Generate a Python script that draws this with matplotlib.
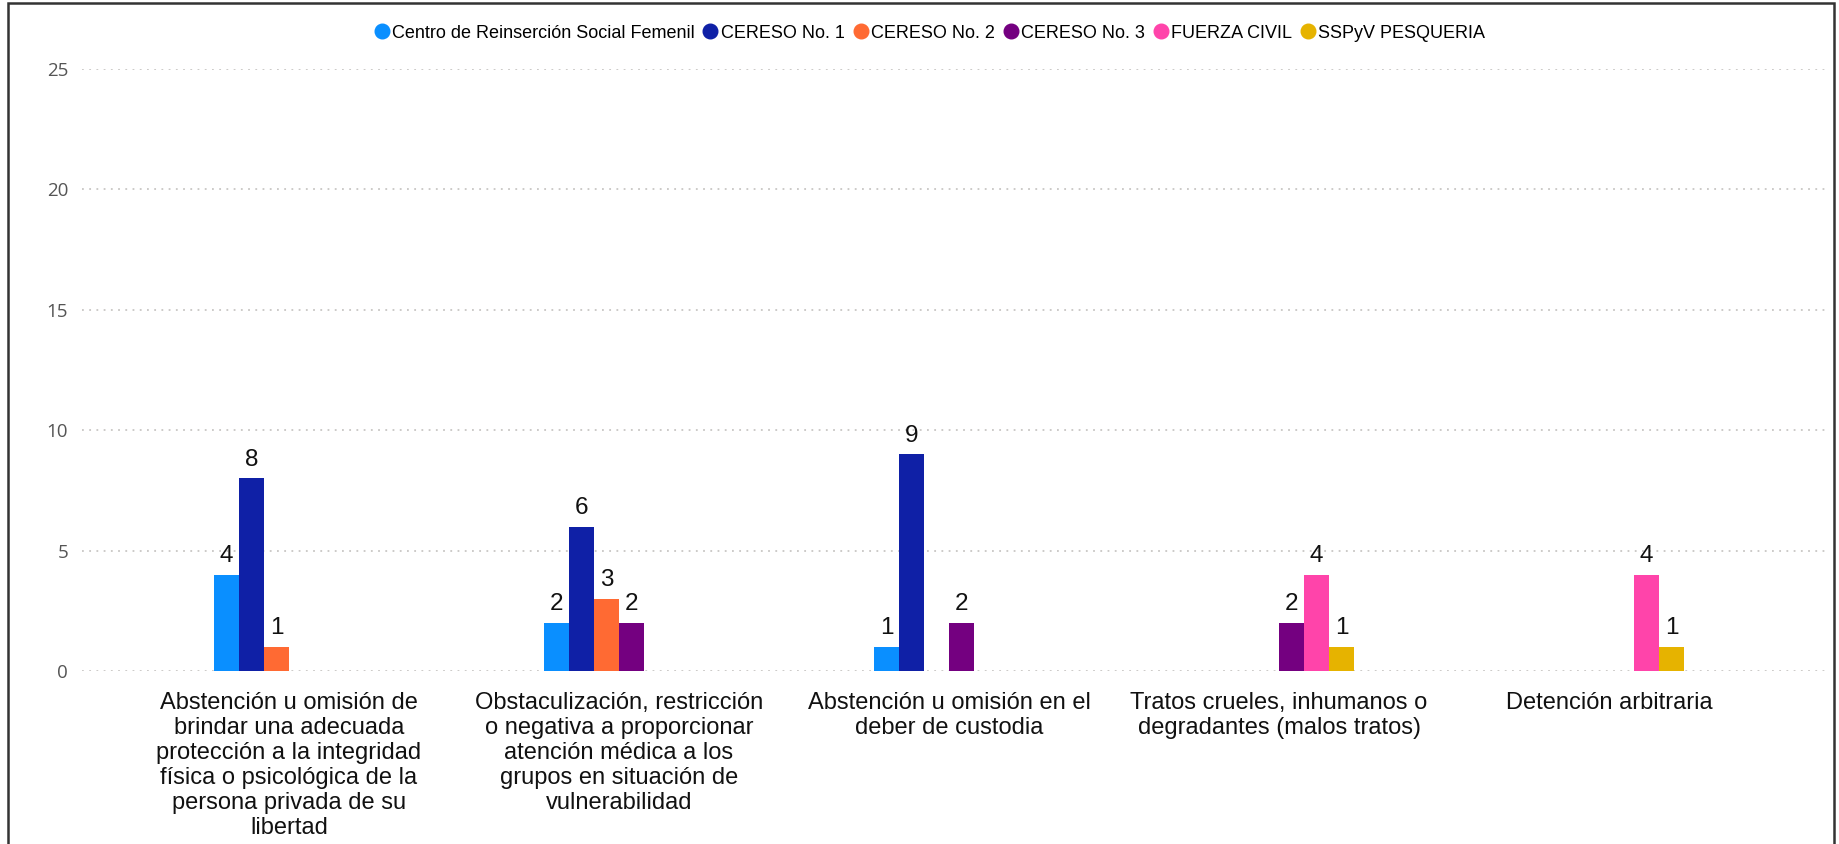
from matplotlib import pyplot as plt
from matplotlib.lines import Line2D
from matplotlib.patches import Rectangle
import numpy as np

categories = [
    'Abstención u omisión de\nbrindar una adecuada\nprotección a la integridad\nfísica o psicológica de la\npersona privada de su\nlibertad',
    'Obstaculización, restricción\no negativa a proporcionar\natención médica a los\ngrupos en situación de\nvulnerabilidad',
    'Abstención u omisión en el\ndeber de custodia',
    'Tratos crueles, inhumanos o\ndegradantes (malos tratos)',
    'Detención arbitraria',
]
series_names = [
    'Centro de Reinserción Social Femenil',
    'CERESO No. 1',
    'CERESO No. 2',
    'CERESO No. 3',
    'FUERZA CIVIL',
    'SSPyV PESQUERIA',
]
femenil = [4, 2, 1, None, None]
cereso_1 = [8, 6, 9, None, None]
cereso_2 = [1, 3, None, None, None]
cereso_3 = [None, 2, 2, 2, None]
fuerza_civil = [None, None, None, 4, 4]
sspyv = [None, None, None, 1, 1]
series_values = [femenil, cereso_1, cereso_2, cereso_3, fuerza_civil, sspyv]
colors = ['#0A8FFF', '#0F20A6', '#FF6A33', '#740080', '#FF44AA', '#E6B300']
y_ticks = [0, 5, 10, 15, 20, 25]

label_font = ['Liberation Sans', 'DejaVu Sans']

fig = plt.figure(figsize=(18.39, 8.44), dpi=100)
ax = fig.add_axes([82/1839, 1 - 671/844, (1825 - 82)/1839, (671 - 69)/844])

spacing = 330.0
w = 25.0 / spacing
x = np.arange(len(categories))
for k, (name, vals, c) in enumerate(zip(series_names, series_values, colors)):
    for i, v in enumerate(vals):
        if v is None:
            continue
        xi = x[i] + (k - 2.5) * w
        ax.bar(xi, v, width=w, color=c, zorder=3)
        ax.annotate(str(v), (xi, v), xytext=(0, 5.5), textcoords='offset points',
                    ha='center', va='bottom', fontsize=17.5, color='#111111',
                    family=label_font)

ax.set_xlim(-0.5 - 42/spacing, 4.5 + 51/spacing)
ax.set_ylim(0, 25)
ax.set_yticks(y_ticks)
ax.set_yticklabels([str(t) for t in y_ticks], family=['Open Sans', 'DejaVu Sans'],
                   fontsize=13.5, color='#555555')
ax.set_xticks(x)
ax.set_xticklabels(categories, family=label_font, fontsize=17, color='#111111',
                   linespacing=1.18)
ax.tick_params(axis='both', length=0)
ax.tick_params(axis='y', pad=10)
ax.tick_params(axis='x', pad=15)
ax.grid(axis='y', color='#C8C6C4', linestyle=(0, (1, 3)), linewidth=1.3, zorder=0)
for s in ax.spines.values():
    s.set_visible(False)

handles = [Line2D([], [], marker='o', linestyle='', markersize=10.5,
                  markerfacecolor=c, markeredgecolor=c) for c in colors]
fig.legend(handles, series_names, loc='center', bbox_to_anchor=(930/1839, 1 - 33/844),
           ncol=6, frameon=False, handlelength=0.75, handletextpad=0.2,
           columnspacing=0.5, borderaxespad=0,
           prop={'family': label_font, 'size': 13})

fig.add_artist(Rectangle((8/1839, -0.05), (1834 - 8)/1839, 1.05 - 3/844,
                         transform=fig.transFigure, fill=False,
                         edgecolor='#333333', linewidth=1.8))

fig.savefig('out.png', dpi=100)
